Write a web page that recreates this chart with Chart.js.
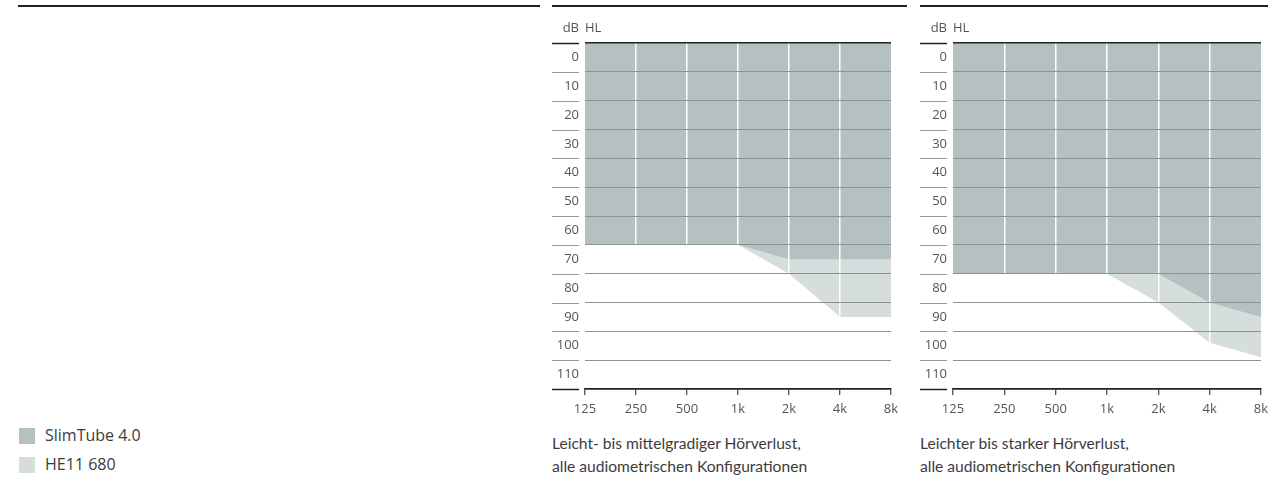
<!DOCTYPE html>
<html>
<head>
<meta charset="utf-8">
<script src="https://cdn.jsdelivr.net/npm/chart.js@4"></script>
<style>
  body { margin: 0; background: #fff; width: 1268px; height: 485px; position: relative; overflow: hidden;
         font-family: "Open Sans", "Noto Sans", sans-serif; color: #3c3c3c; }
  .rule { position: absolute; top: 5px; height: 2px; background: #222; }
  canvas { position: absolute; top: 0; }
  .caption { position: absolute; top: 432px; font-family: Lato, "Open Sans", sans-serif; font-size: 15.6px; line-height: 23px; color: #3c3c3c; }
  .legend { position: absolute; left: 19px; font-size: 16px; line-height: 18px; }
  .legend span { display: inline-block; width: 16px; height: 16px; vertical-align: -3px; margin-right: 10px; }
</style>
</head>
<body>
<div class="rule" style="left:18px; width:522px"></div>
<div class="rule" style="left:552px; width:355px"></div>
<div class="rule" style="left:920px; width:348px"></div>

<canvas id="mild" width="360" height="420" style="left:540px"></canvas>
<canvas id="severe" width="360" height="420" style="left:908px"></canvas>

<div class="caption" style="left:552px">Leicht- bis mittelgradiger Hörverlust,<br>alle audiometrischen Konfigurationen</div>
<div class="caption" style="left:920px">Leichter bis starker Hörverlust,<br>alle audiometrischen Konfigurationen</div>

<div class="legend" style="top:426px"><span style="background:#b4c1c0"></span>SlimTube 4.0</div>
<div class="legend" style="top:455px"><span style="background:#d5dedd"></span>HE11 680</div>

<script>
// frequencies (Hz) on the x axis
var freqLabels = ['125', '250', '500', '1k', '2k', '4k', '8k'];

// fitting ranges in dB HL (lower edge of the shaded area)
var mildSlimTube   = [70, 70, 70, 70, 75, 75, 75];
var mildHE11       = [70, 70, 70, 70, 80, 95, 95];
var severeSlimTube = [80, 80, 80, 80, 80, 90, 95];
var severeHE11     = [80, 80, 80, 80, 90, 104, 109];

var seriesNames = ['SlimTube 4.0', 'HE11 680'];
var dbMax = 120;

const darkFill  = '#b4c1c0';
const lightFill = '#d5dedd';
const tickFont  = { family: "'Open Sans', 'Noto Sans', sans-serif", size: 13 };

// short lines left of the y labels + "dB HL"
const sideTicks = {
    id: 'sideTicks',
    afterDraw(chart) {
        const y = chart.scales.y;
        const ctx = chart.ctx;
        const area = chart.chartArea;
        ctx.save();
        y.ticks.forEach(t => {
            const py = Math.round(y.getPixelForValue(t.value)) + 0.5;
            const edge = (t.value == 0 || t.value == dbMax);
            ctx.strokeStyle = edge ? '#222' : '#999';
            ctx.lineWidth = edge ? 1.5 : 1;
            ctx.beginPath();
            ctx.moveTo(y.left, py);
            ctx.lineTo(area.left - 6, py);
            ctx.stroke();
        });
        ctx.fillStyle = '#555';
        ctx.font = "13px 'Open Sans', 'Noto Sans', sans-serif";
        ctx.textBaseline = 'middle';
        ctx.textAlign = 'right';
        ctx.fillText('dB', area.left - 6, 28);
        ctx.textAlign = 'left';
        ctx.fillText('HL', area.left, 28);
        ctx.restore();
    }
};

function makeChart(id, dark, light, padRight) {
    var ctx = document.getElementById(id).getContext('2d');
    return new Chart(ctx, {
        type: 'line',
        data: {
            labels: freqLabels,
            datasets: [{
                label: seriesNames[0],
                data: dark,
                backgroundColor: darkFill,
                borderWidth: 0,
                pointRadius: 0,
                fill: { value: 0 }
            }, {
                label: seriesNames[1],
                data: light,
                backgroundColor: lightFill,
                borderWidth: 0,
                pointRadius: 0,
                fill: { value: 0 }
            }]
        },
        options: {
            responsive: false,
            animation: false,
            layout: { padding: { left: 12, right: padRight, top: 43, bottom: 0 } },
            plugins: { legend: { display: false }, tooltip: { enabled: false }, title: { display: false } },
            scales: {
                x: {
                    afterFit: s => { s.height = 31; s.paddingLeft = 0; s.paddingRight = 0; },
                    grid: {
                        z: 1,
                        color: c => (c.index == 0 || c.index == freqLabels.length - 1) ? 'rgba(0,0,0,0)' : '#ffffff',
                        lineWidth: 1.5,
                        drawTicks: true,
                        tickLength: 6,
                        tickColor: '#222',
                        tickWidth: 1
                    },
                    border: { display: true, color: '#222', width: 1.5, z: 2 },
                    ticks: { color: '#555', font: tickFont, padding: 6, maxRotation: 0, autoSkip: false }
                },
                y: {
                    reverse: true,
                    min: 0,
                    max: dbMax,
                    afterFit: s => { s.width = 33; s.paddingTop = 0; s.paddingBottom = 0; },
                    grid: {
                        z: 2,
                        color: c => (c.tick.value == 0 || c.tick.value == dbMax) ? '#222' : '#8e9392',
                        lineWidth: c => (c.tick.value == 0 || c.tick.value == dbMax) ? 1.5 : 1,
                        drawTicks: false
                    },
                    border: { display: false },
                    ticks: {
                        stepSize: 10,
                        color: '#555',
                        font: tickFont,
                        padding: 6,
                        labelOffset: 14.4,
                        autoSkip: false,
                        callback: v => v >= dbMax ? '' : String(v)
                    }
                }
            }
        },
        plugins: [sideTicks]
    });
}

makeChart('mild', mildSlimTube, mildHE11, 9);
makeChart('severe', severeSlimTube, severeHE11, 7);
</script>
</body>
</html>
